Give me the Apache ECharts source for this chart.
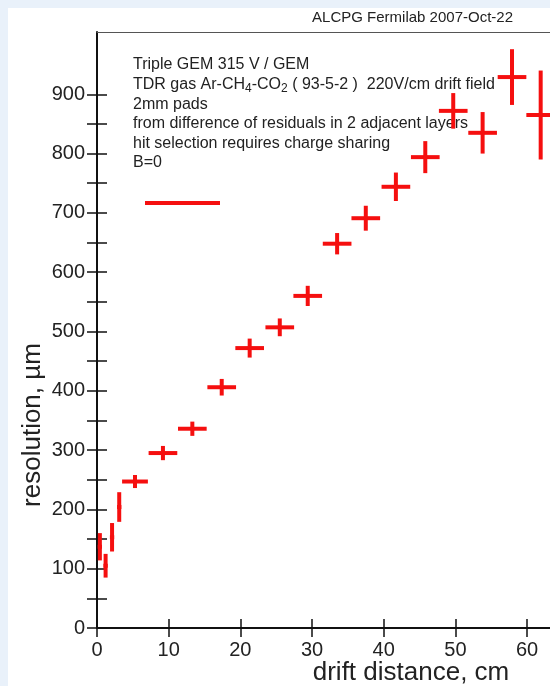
<!DOCTYPE html>
<html>
<head>
<meta charset="utf-8">
<script src="https://cdn.jsdelivr.net/npm/echarts@6/dist/echarts.min.js"></script>
<style>
  html, body { margin: 0; padding: 0; }
  #chart { width: 550px; height: 686px; }
</style>
</head>
<body>
<div id="chart"></div>
<script>
// drift distance (cm), bin half width, resolution (um), error
const driftX = [0.4, 1.2, 2.1, 3.1, 5.3, 9.2, 13.3, 17.4, 21.3, 25.5, 29.4, 33.5, 37.5, 41.7, 45.8, 49.7, 53.8, 57.9, 61.9]
const driftErr = [0.3, 0.3, 0.3, 0.3, 1.8, 2.0, 2.0, 2.0, 2.0, 2.0, 2.0, 2.0, 2.0, 2.0, 2.0, 2.0, 2.0, 2.0, 2.0]
const resolution = [137, 105, 153, 204, 247, 295, 336, 406, 472, 507, 560, 648, 691, 744, 794, 872, 835, 929, 865]
const resolutionErr = [23, 20, 24, 25, 11, 12, 12, 14, 16, 15, 17, 18, 21, 24, 27, 30, 35, 47, 75]

const xTicks = [0, 10, 20, 30, 40, 50, 60]
const yLabels = [0, 100, 200, 300, 400, 500, 600, 700, 800, 900]
const yTicks = [0, 50, 100, 150, 200, 250, 300, 350, 400, 450, 500, 550, 600, 650, 700, 750, 800, 850, 900]

const infoLines = [
  'Triple GEM 315 V / GEM',
  'TDR gas Ar-CH{sub|4}-CO{sub|2} ( 93-5-2 )  220V/cm drift field',
  '2mm pads',
  'from difference of residuals in 2 adjacent layers',
  'hit selection requires charge sharing',
  'B=0'
]

const font = 'Liberation Sans, Arial, sans-serif'
const red = '#f50f0f'

let data = driftX.map((x, i) => [x, resolution[i], driftErr[i], resolutionErr[i]])

let chart = echarts.init(document.getElementById('chart'))

let graphics = [
  {type: 'rect', left: 8, top: 8, shape: {width: 542, height: 678}, style: {fill: '#fff'}, z: -10},
  {
    type: 'text', x: 513, y: 18,
    style: {text: 'ALCPG Fermilab 2007-Oct-22', font: '15px ' + font, fill: '#222', align: 'right', verticalAlign: 'middle'}
  },
  {
    type: 'text', x: 411, y: 673,
    style: {text: 'drift distance, cm', font: '26px ' + font, fill: '#222', align: 'center', verticalAlign: 'middle'}
  },
  {
    type: 'text', x: 33, y: 425, rotation: Math.PI / 2,
    style: {text: 'resolution, \u00b5m', font: '26px ' + font, fill: '#222', align: 'center', verticalAlign: 'middle'}
  },
  // legend key
  {type: 'line', shape: {x1: 145, y1: 203, x2: 220, y2: 203}, style: {stroke: red, lineWidth: 4}}
]

infoLines.forEach((line, i) => {
  graphics.push({
    type: 'text', x: 133, y: 65 + i * 19.6,
    style: {
      text: line,
      font: '16px ' + font,
      fill: '#222',
      verticalAlign: 'middle',
      lineHeight: 20,
      rich: {
        sub: {fontSize: 12, fontFamily: font, fill: '#222', verticalAlign: 'bottom'}
      }
    }
  })
})

const xMax = 63.2
const yMax = 1005

let option = {
  animation: false,
  backgroundColor: '#e9f1fa',
  grid: {
    left: 97, top: 32, right: 0, bottom: 58,
    show: true, backgroundColor: '#fff', borderWidth: 0
  },
  xAxis: [
    {
      type: 'value', min: 0, max: xMax, position: 'bottom',
      splitLine: {show: false},
      axisLine: {show: true, lineStyle: {color: '#111', width: 2}},
      axisTick: {show: true, length: 9, customValues: xTicks, lineStyle: {color: '#111', width: 1.5}},
      axisLabel: {customValues: xTicks, color: '#222', fontSize: 20, fontFamily: font, margin: 12}
    },
    {
      type: 'value', min: 0, max: xMax, position: 'bottom',
      splitLine: {show: false},
      axisLine: {show: false},
      axisTick: {show: true, inside: true, length: 9, customValues: xTicks, lineStyle: {color: '#111', width: 1.5}},
      axisLabel: {show: false}
    },
    {
      // top frame line
      type: 'value', min: 0, max: xMax, position: 'top',
      splitLine: {show: false},
      axisLine: {show: true, lineStyle: {color: '#555', width: 1}},
      axisTick: {show: false},
      axisLabel: {show: false}
    }
  ],
  yAxis: [
    {
      type: 'value', min: 0, max: yMax, position: 'left',
      splitLine: {show: false},
      axisLine: {show: true, lineStyle: {color: '#111', width: 2}},
      axisTick: {show: true, length: 10, customValues: yTicks, lineStyle: {color: '#111', width: 1.5}},
      axisLabel: {customValues: yLabels, color: '#222', fontSize: 20, fontFamily: font, margin: 12}
    },
    {
      type: 'value', min: 0, max: yMax, position: 'left',
      splitLine: {show: false},
      axisLine: {show: false},
      axisTick: {show: true, inside: true, length: 10, customValues: yTicks, lineStyle: {color: '#111', width: 1.5}},
      axisLabel: {show: false}
    }
  ],
  graphic: graphics,
  series: [
    {
      type: 'custom',
      xAxisIndex: 0,
      yAxisIndex: 0,
      encode: {x: 0, y: 1},
      clip: false,
      data: data,
      renderItem: function (params, api) {
        let x = api.value(0), y = api.value(1), ex = api.value(2), ey = api.value(3)
        let l = api.coord([x - ex, y]), r = api.coord([x + ex, y])
        let t = api.coord([x, y + ey]), b = api.coord([x, y - ey])
        let style = {stroke: red, lineWidth: 4}
        return {
          type: 'group',
          children: [
            {type: 'line', shape: {x1: l[0], y1: l[1], x2: r[0], y2: r[1]}, style: style},
            {type: 'line', shape: {x1: t[0], y1: t[1], x2: b[0], y2: b[1]}, style: style}
          ]
        }
      }
    }
  ]
}

chart.setOption(option)
</script>
</body>
</html>
